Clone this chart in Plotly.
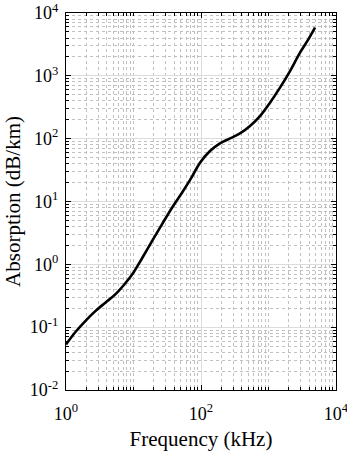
import plotly.graph_objects as go

# Data (frequency in kHz, absorption in dB/km)
freq_khz = [1.0, 1.37, 1.93, 2.72, 3.82, 5.37, 7.56, 10.07, 13.4, 18.8, 26.4, 37.2,
            52.3, 71.1, 96.7, 136, 191, 269, 378, 532, 748, 1052, 1480, 2083, 2930,
            3890, 4887]
absorption_db_km = [0.053, 0.083, 0.125, 0.180, 0.245, 0.332, 0.50, 0.75, 1.25, 2.34,
                    4.32, 7.97, 13.8, 23.3, 41.5, 63.5, 84.1, 101, 121, 159, 229, 374,
                    649, 1192, 2339, 3810, 5860]

x_tickvals = [1, 100, 10000]
x_ticktext = ["10<sup>0</sup>", "10<sup>2</sup>", "10<sup>4</sup>"]
y_tickvals = [1e-2, 1e-1, 1, 10, 100, 1000, 10000]
y_ticktext = ["10<sup>-2</sup>", "10<sup>-1</sup>", "10<sup>0</sup>", "10<sup>1</sup>",
              "10<sup>2</sup>", "10<sup>3</sup>", "10<sup>4</sup>"]

x_minor = sorted([m * 10 ** k for k in range(0, 4) for m in range(2, 10)] + [10, 1000])
y_minor = [m * 10.0 ** k for k in range(-2, 4) for m in range(2, 10)]

FONT = "Liberation Serif"

fig = go.Figure()
fig.add_trace(go.Scatter(x=freq_khz, y=absorption_db_km, mode="lines",
                         line=dict(color="black", width=2.6, shape="spline", smoothing=1.0),
                         showlegend=False))

axis_common = dict(
    type="log", showline=True, linecolor="black", linewidth=1.2, mirror="allticks",
    ticks="inside", ticklen=5, tickwidth=1, tickcolor="black",
    showgrid=True, gridcolor="#dcdcdc", gridwidth=1, zeroline=False,
    tickfont=dict(family=FONT, size=18, color="black"),
    ticklabeloverflow="allow", automargin=False,
)

fig.update_xaxes(
    **axis_common,
    range=[0, 4], tickmode="array", tickvals=x_tickvals, ticktext=x_ticktext,
    ticklabelstandoff=7,
    minor=dict(tickmode="array", tickvals=x_minor, ticks="inside", ticklen=3,
               tickcolor="black", showgrid=True, gridcolor="#c0c0c0", griddash="dot", gridwidth=1),
    title=dict(text="Frequency (kHz)", font=dict(family=FONT, size=21, color="black"), standoff=15),
)
fig.update_yaxes(
    **axis_common,
    range=[-2, 4], tickmode="array", tickvals=y_tickvals, ticktext=y_ticktext,
    ticklabelstandoff=3,
    minor=dict(tickmode="array", tickvals=y_minor, ticks="inside", ticklen=3,
               tickcolor="black", showgrid=True, gridcolor="#c0c0c0", griddash="dot", gridwidth=1),
    title=dict(text="Absorption (dB/km)", font=dict(family=FONT, size=21, color="black"), standoff=3),
)

fig.update_layout(
    width=347, height=451,
    margin=dict(l=66, r=11, t=13, b=61),
    paper_bgcolor="white", plot_bgcolor="white",
    font=dict(family=FONT, color="black"),
)

fig.write_html("out.html")
